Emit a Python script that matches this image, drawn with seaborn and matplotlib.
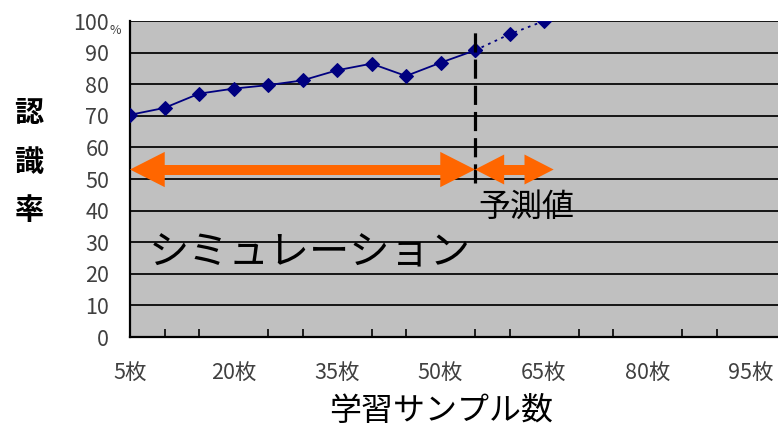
import numpy as np
import pandas as pd
import matplotlib
matplotlib.use("Agg")
import matplotlib.pyplot as plt
import seaborn as sns
from matplotlib.patches import FancyArrowPatch

# ---- data ----
samples = [5, 10, 15, 20, 25, 30, 35, 40, 45, 50, 55, 60, 65]
rates = [70.3, 72.5, 77.0, 78.6, 79.7, 81.2, 84.4, 86.5, 82.6, 86.8, 90.7, 95.8, 100.0]
split_at = 55          # boundary between simulation and prediction
pred_end = 66.4        # end of the prediction arrow
arrow_level = 53       # height of the orange arrows
x_tick_values = [5, 20, 35, 50, 65, 80, 95]
y_tick_values = [0, 10, 20, 30, 40, 50, 60, 70, 80, 90, 100]
sim_label = "シミュレーション"
pred_label = "予測値"
x_label = "学習サンプル数"
y_label_chars = ["認", "識", "率"]

df = pd.DataFrame({"samples": samples, "rate": rates})
df_sim = df[df["samples"] <= split_at]
df_pred = df[df["samples"] >= split_at]

sns.set_style("white")
plt.rcParams["font.family"] = ["Noto Sans CJK JP", "DejaVu Sans"]

W, H = 778, 430
DPI = 100
fig = plt.figure(figsize=(W / DPI, H / DPI), dpi=DPI)
ax_left, ax_bottom, ax_top = 130, 337, 21
ax = fig.add_axes([ax_left / W, (H - ax_bottom) / H, (W - ax_left) / W, (ax_bottom - ax_top) / H])
ax.set_facecolor("#C0C0C0")

navy = "#000080"
sns.lineplot(data=df_sim, x="samples", y="rate", ax=ax, color=navy, lw=1.3,
             marker="D", markersize=7, markeredgecolor=navy, markerfacecolor=navy, zorder=5)
sns.lineplot(data=df_pred, x="samples", y="rate", ax=ax, color=navy, lw=1.3,
             linestyle=(0, (1.5, 2.5)),
             marker="D", markersize=7, markeredgecolor=navy, markerfacecolor=navy, zorder=5)

px_per_unit = 6.9
ax.set_xlim(5, 5 + (W - ax_left) / px_per_unit)
ax.set_ylim(0, 100)

# grid
ax.set_yticks(y_tick_values)
ax.yaxis.grid(True, color="#151515", lw=1.4)
ax.xaxis.grid(False)
ax.set_axisbelow(True)
for s in ["top", "right"]:
    ax.spines[s].set_visible(False)
for s in ["left", "bottom"]:
    ax.spines[s].set_color("black")
    ax.spines[s].set_linewidth(1.6)

ylabels = [str(v) for v in y_tick_values]
ax.set_yticklabels(ylabels)
ax.tick_params(axis="y", length=0, pad=15, labelsize=15.5, labelcolor="#404040")

ax.set_xticks(x_tick_values)
ax.set_xticklabels([f"{v}枚" for v in x_tick_values])
ax.set_xticks(samples + list(range(70, 100, 5)), minor=True)
ax.tick_params(axis="x", which="major", length=0, pad=18, labelsize=15.5, labelcolor="#404040")
ax.tick_params(axis="x", which="minor", direction="in", length=6, width=1.2, color="black", bottom=True)
ax.set_xlabel("")
ax.set_ylabel("")

# "%" after 100
fig.text(115 / W, 1 - 31 / H, "%", fontsize=9, color="#404040", ha="center", va="center")

# vertical dashed boundary
ax.axvline(split_at, ymin=0.486, ymax=0.982, color="black", lw=2.3, linestyle=(0, (6, 2.2)), zorder=6)

orange = "#FF6600"
xlim = ax.get_xlim()
data_per_pt = (xlim[1] - xlim[0]) / (ax.get_position().width * W) * DPI / 72.0


def double_arrow(x0, x1, head_len, head_half_w, tail_w):
    # filled heads only (no stroke)
    style = f"<|-|>,head_length={head_len},head_width={head_half_w}"
    p = FancyArrowPatch((x0, arrow_level), (x1, arrow_level), arrowstyle=style,
                        mutation_scale=1, lw=0, color=orange, shrinkA=0, shrinkB=0,
                        zorder=7, clip_on=False)
    ax.add_patch(p)
    # shaft, ending inside the heads
    inset = 0.5 * head_len * data_per_pt
    ax.hlines(arrow_level, x0 + inset, x1 - inset, color=orange, lw=tail_w,
              capstyle="butt", zorder=7)


double_arrow(samples[0], split_at, 25, 12.7, 7.2)
double_arrow(split_at, pred_end, 21, 10.8, 7.2)

# texts
fig.text(310 / W, 1 - 253 / H, sim_label, fontsize=29, color="black", ha="center", va="center")
fig.text(526 / W, 1 - 207 / H, pred_label, fontsize=23, color="black", ha="center", va="center")
fig.text(441 / W, 1 - 411 / H, x_label, fontsize=23, color="black", ha="center", va="center")
for ch, yc in zip(y_label_chars, [113, 162, 210]):
    fig.text(29 / W, 1 - yc / H, ch, fontsize=21, fontweight="bold", color="black",
             ha="center", va="center")

fig.savefig("out.png", dpi=DPI)
